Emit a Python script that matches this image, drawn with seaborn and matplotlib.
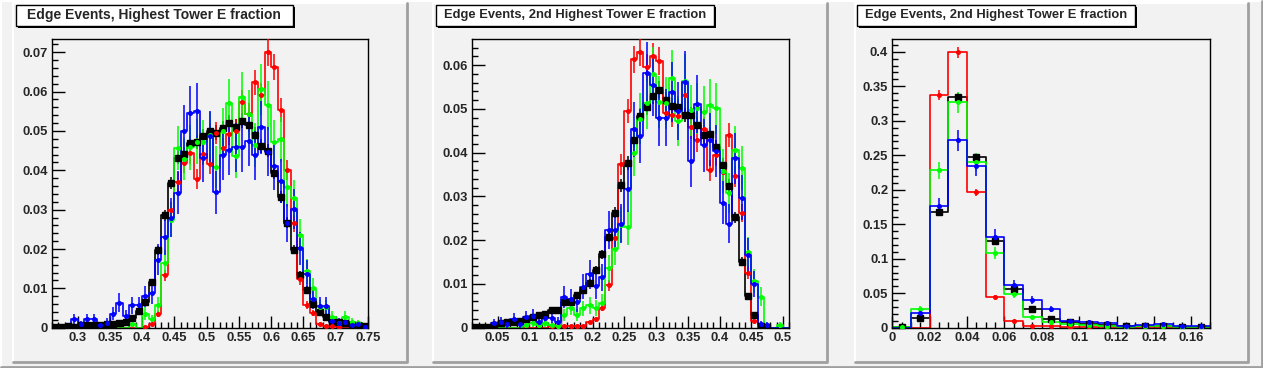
import numpy as np
import pandas as pd
import seaborn as sns
import matplotlib.pyplot as plt
from matplotlib.patches import Rectangle
from matplotlib.ticker import FixedLocator, FixedFormatter, MultipleLocator

sns.set_theme(style='ticks')
plt.rcParams['font.family'] = ['Liberation Sans', 'DejaVu Sans']
plt.rcParams['font.weight'] = 'bold'

# %% data (bin fractions)
titles = ["Edge Events, Highest Tower E fraction",
          "Edge Events, 2nd Highest Tower E fraction",
          "Edge Events, 2nd Highest Tower E fraction"]

# panel 1: 49 bins, 0.26 - 0.75
bins1 = (0.26, 0.75, 49)
black1 = [0.0003, 0.0003, 0.0004, 0.0003, 0.0006, 0.0006, 0.0006, 0.0008, 0.0010, 0.0010,
          0.0013, 0.0015, 0.0024, 0.0042, 0.0065, 0.0116, 0.0197, 0.0286, 0.0368, 0.0432,
          0.0442, 0.0469, 0.0472, 0.0486, 0.0501, 0.0496, 0.0507, 0.0521, 0.0511, 0.0526,
          0.0516, 0.0491, 0.0462, 0.0450, 0.0394, 0.0333, 0.0267, 0.0198, 0.0135, 0.0097,
          0.0060, 0.0041, 0.0028, 0.0014, 0.0014, 0.0013, 0.0007, 0.0007, 0.0004]
red1 = [0, 0, 0, 0, 0, 0, 0, 0, 0, 0,
        0, 0, 0, 0, 0.0003, 0.0009, 0.0036, 0.0133, 0.0298, 0.0371,
        0.0418, 0.0443, 0.0378, 0.0441, 0.0417, 0.0494, 0.0456, 0.0492, 0.0501, 0.0573,
        0.0542, 0.0624, 0.0591, 0.0700, 0.0662, 0.0553, 0.0400, 0.0265, 0.0123, 0.0058,
        0.0038, 0.0009, 0.0005, 0.0005, 0.0002, 0, 0, 0, 0]
green1 = [0, 0, 0, 0, 0, 0, 0, 0, 0, 0,
          0, 0, 0.0009, 0, 0.0036, 0.0021, 0.0058, 0.0164, 0.0274, 0.0456,
          0.0429, 0.0458, 0.0473, 0.0471, 0.0490, 0.0408, 0.0500, 0.0570, 0.0436, 0.0587,
          0.0543, 0.0464, 0.0606, 0.0565, 0.0471, 0.0479, 0.0357, 0.0329, 0.0236, 0.0143,
          0.0100, 0.0052, 0.0052, 0.0028, 0.0011, 0.0028, 0.0015, 0.0011, 0]
blue1 = [0, 0, 0, 0.0021, 0.0009, 0.0021, 0.0021, 0.0007, 0.0013, 0.0036,
         0.0064, 0.0030, 0.0057, 0.0057, 0.0080, 0.0087, 0.0173, 0.0230, 0.0280, 0.0343,
         0.0500, 0.0545, 0.0552, 0.0431, 0.0486, 0.0344, 0.0438, 0.0452, 0.0458, 0.0458,
         0.0474, 0.0438, 0.0509, 0.0447, 0.0410, 0.0373, 0.0267, 0.0301, 0.0202, 0.0137,
         0.0072, 0.0056, 0.0056, 0.0018, 0.0013, 0.0014, 0.0008, 0.0009, 0.0003]

# panel 2: 50 bins, 0.01 - 0.51
bins2 = (0.01, 0.51, 50)
black2 = [0.0002, 0.0002, 0.0002, 0.0007, 0.0011, 0.0013, 0.0013, 0.0016, 0.0021, 0.0025,
          0.0029, 0.0032, 0.0040, 0.0041, 0.0058, 0.0059, 0.0075, 0.0086, 0.0103, 0.0131,
          0.0168, 0.0208, 0.0263, 0.0325, 0.0377, 0.0429, 0.0483, 0.0505, 0.0529, 0.0544,
          0.0520, 0.0506, 0.0505, 0.0487, 0.0486, 0.0463, 0.0440, 0.0442, 0.0413, 0.0372,
          0.0324, 0.0252, 0.0151, 0.0072, 0.0029, 0.0005, 0.0002, 0, 0, 0]
red2 = [0, 0, 0, 0, 0, 0, 0, 0, 0, 0,
        0, 0, 0.0003, 0.0003, 0.0003, 0.0003, 0.0003, 0.0003, 0.0012, 0.0019,
        0.0046, 0.0097, 0.0206, 0.0373, 0.0495, 0.0613, 0.0629, 0.0595, 0.0620, 0.0609,
        0.0491, 0.0486, 0.0484, 0.0531, 0.0458, 0.0428, 0.0455, 0.0360, 0.0394, 0.0356,
        0.0440, 0.0346, 0.0261, 0.0126, 0.0015, 0, 0, 0, 0, 0]
green2 = [0, 0, 0, 0, 0, 0, 0, 0, 0.0006, 0.0010,
          0.0006, 0.0011, 0.0006, 0.0004, 0.0029, 0.0046, 0.0029, 0.0044, 0.0051, 0.0045,
          0.0057, 0.0136, 0.0179, 0.0235, 0.0229, 0.0400, 0.0478, 0.0514, 0.0579, 0.0515,
          0.0514, 0.0571, 0.0472, 0.0564, 0.0497, 0.0501, 0.0493, 0.0509, 0.0501, 0.0358,
          0.0307, 0.0407, 0.0364, 0.0172, 0.0107, 0.0071, 0, 0, 0.0006, 0]
blue2 = [0, 0, 0, 0.0011, 0.0014, 0.0008, 0.0021, 0.0008, 0.0024, 0.0027,
         0.0014, 0.0022, 0.0022, 0.0014, 0.0071, 0.0065, 0.0058, 0.0094, 0.0122, 0.0095,
         0.0115, 0.0223, 0.0223, 0.0238, 0.0316, 0.0453, 0.0438, 0.0581, 0.0554, 0.0480,
         0.0480, 0.0538, 0.0495, 0.0562, 0.0380, 0.0511, 0.0417, 0.0430, 0.0404, 0.0286,
         0.0238, 0.0387, 0.0297, 0.0166, 0.0100, 0.0008, 0.0006, 0, 0, 0]

# panel 3: 17 bins, 0 - 0.17
bins3 = (0.0, 0.17, 17)
black3 = [0.0014, 0.0145, 0.1676, 0.3348, 0.2478, 0.1260, 0.0565, 0.0270, 0.0125,
          0.0085, 0.0058, 0.0040, 0.0030, 0.0027, 0.0030, 0.0015, 0.0015]
red3 = [0, 0, 0.3372, 0.3990, 0.1961, 0.0444, 0.0097, 0.0030, 0.0030,
        0.0015, 0.0008, 0.0005, 0.0005, 0.0005, 0.0005, 0, 0]
green3 = [0.0015, 0.0275, 0.2280, 0.3266, 0.2400, 0.1077, 0.0483, 0.0155, 0.0077,
          0.0048, 0.0043, 0.0029, 0.0015, 0.0029, 0.0024, 0.0010, 0.0010]
blue3 = [0, 0.0208, 0.1758, 0.2715, 0.2343, 0.1319, 0.0613, 0.0400, 0.0270,
         0.0101, 0.0087, 0.0063, 0.0029, 0.0034, 0.0048, 0.0024, 0.0024]

# approx. number of entries per sample (sets the size of the stat. error bars)
events = {'black': 15000, 'red': 6200, 'green': 1450, 'blue': 1150}

xticks1 = [0.3, 0.35, 0.4, 0.45, 0.5, 0.55, 0.6, 0.65, 0.7, 0.75]
xlabels1 = ["0.3", "0.35", "0.4", "0.45", "0.5", "0.55", "0.6", "0.65", "0.7", "0.75"]
yticks1 = [0, 0.01, 0.02, 0.03, 0.04, 0.05, 0.06, 0.07]
ylabels1 = ["0", "0.01", "0.02", "0.03", "0.04", "0.05", "0.06", "0.07"]
xticks2 = [0.05, 0.1, 0.15, 0.2, 0.25, 0.3, 0.35, 0.4, 0.45, 0.5]
xlabels2 = ["0.05", "0.1", "0.15", "0.2", "0.25", "0.3", "0.35", "0.4", "0.45", "0.5"]
yticks2 = [0, 0.01, 0.02, 0.03, 0.04, 0.05, 0.06]
ylabels2 = ["0", "0.01", "0.02", "0.03", "0.04", "0.05", "0.06"]
xticks3 = [0, 0.02, 0.04, 0.06, 0.08, 0.1, 0.12, 0.14, 0.16]
xlabels3 = ["0", "0.02", "0.04", "0.06", "0.08", "0.1", "0.12", "0.14", "0.16"]
yticks3 = [0, 0.05, 0.1, 0.15, 0.2, 0.25, 0.3, 0.35, 0.4]
ylabels3 = ["0", "0.05", "0.1", "0.15", "0.2", "0.25", "0.3", "0.35", "0.4"]

panels = [
    dict(bins=bins1, data={'black': black1, 'red': red1, 'green': green1, 'blue': blue1},
         ymax=0.0733, xt=(xticks1, xlabels1), yt=(yticks1, ylabels1), xminor=0.01, yminor=0.002),
    dict(bins=bins2, data={'black': black2, 'red': red2, 'green': green2, 'blue': blue2},
         ymax=0.0659, xt=(xticks2, xlabels2), yt=(yticks2, ylabels2), xminor=0.01, yminor=0.002),
    dict(bins=bins3, data={'black': black3, 'red': red3, 'green': green3, 'blue': blue3},
         ymax=0.418, xt=(xticks3, xlabels3), yt=(yticks3, ylabels3), xminor=0.005, yminor=0.01),
]

colors = {'black': '#000000', 'red': '#ff0000', 'green': '#00ff00', 'blue': '#0000ff'}

# %% figure
W, H = 1263, 368
fig = plt.figure(figsize=(W / 100, H / 100), dpi=100, facecolor='#f2f2f2')

# background layer (pads + title boxes), drawn in pixel coords
bg = fig.add_axes([0, 0, 1, 1], zorder=-10)
bg.set_xlim(0, W)
bg.set_ylim(H, 0)
bg.axis('off')

# canvas bevel
bg.plot([1, 1, W - 1], [H - 1, 1, 1], color='white', lw=1.5)
bg.plot([1, W - 1, W - 1], [H - 1, H - 1, 1], color='#a0a0a0', lw=2.0)

pad_x = [(13, 407), (433, 827), (855, 1248)]
ax_x = [(51.7, 368.0), (472.3, 789.3), (892.3, 1210.0)]
box_x = [(15.7, 292.7), (436.0, 714.0), (857.3, 1135.0)]
title_size = [10, 9.3, 9.3]
ax_top, ax_bot = 39.3, 327.7

for k in range(3):
    x0, x1 = pad_x[k]
    bg.add_patch(Rectangle((x0, 3), x1 - x0, 359, facecolor='#f2f2f2', edgecolor='none'))
    bg.plot([x0, x0, x1], [362, 3, 3], color='white', lw=1.5)
    bg.plot([x0, x1, x1], [362, 362, 3], color='#a0a0a0', lw=2.0)
    # title box with shadow
    b0, b1 = box_x[k]
    bg.add_patch(Rectangle((b0 + 2, 6.7), b1 - b0, 21, facecolor='black', edgecolor='none'))
    bg.add_patch(Rectangle((b0, 4.7), b1 - b0, 21, facecolor='white', edgecolor='black', lw=1))
    bg.text((b0 + b1) / 2, 15.4, titles[k], ha='center', va='center',
            fontsize=title_size[k], fontweight='bold')

for k, p in enumerate(panels):
    lo, hi, n = p['bins']
    edges = np.linspace(lo, hi, n + 1)
    centers = 0.5 * (edges[:-1] + edges[1:])
    l, r = ax_x[k]
    ax = fig.add_axes([l / W, 1 - ax_bot / H, (r - l) / W, (ax_bot - ax_top) / H])
    ax.set_facecolor('#f2f2f2')

    for name in ['black', 'red', 'green', 'blue']:
        vals = np.array(p['data'][name], dtype=float)
        df = pd.DataFrame({'x': centers, 'w': vals})
        sns.histplot(data=df, x='x', weights='w', binwidth=(hi - lo) / n, binrange=(lo, hi),
                     element='step', fill=False, color=colors[name], linewidth=1.2, ax=ax)
        m = vals > 0
        err = np.sqrt(vals / events[name])
        ax.errorbar(centers[m], vals[m], yerr=err[m], fmt='s' if name == 'black' else 'o',
                    ms=3.8 if name == 'black' else 2.6, color=colors[name],
                    elinewidth=1.1, capsize=0, zorder=3)

    ax.set_xlim(lo, hi)
    ax.set_ylim(0, p['ymax'])
    ax.set_xlabel('')
    ax.set_ylabel('')
    xt, xl = p['xt']
    yt, yl = p['yt']
    ax.xaxis.set_major_locator(FixedLocator(xt))
    ax.xaxis.set_major_formatter(FixedFormatter(xl))
    ax.yaxis.set_major_locator(FixedLocator(yt))
    ax.yaxis.set_major_formatter(FixedFormatter(yl))
    ax.xaxis.set_minor_locator(MultipleLocator(p['xminor']))
    ax.yaxis.set_minor_locator(MultipleLocator(p['yminor']))
    ax.tick_params(which='major', direction='in', length=9, width=1, color='black',
                   labelsize=9.4, pad=3, top=False, right=False)
    ax.tick_params(which='minor', direction='in', length=4.5, width=1, color='black',
                   top=False, right=False)
    for lab in ax.get_xticklabels() + ax.get_yticklabels():
        lab.set_fontweight('bold')
    for s in ax.spines.values():
        s.set_visible(True)
        s.set_color('black')
        s.set_linewidth(1)

fig.savefig('out.png', dpi=100, facecolor=fig.get_facecolor())
